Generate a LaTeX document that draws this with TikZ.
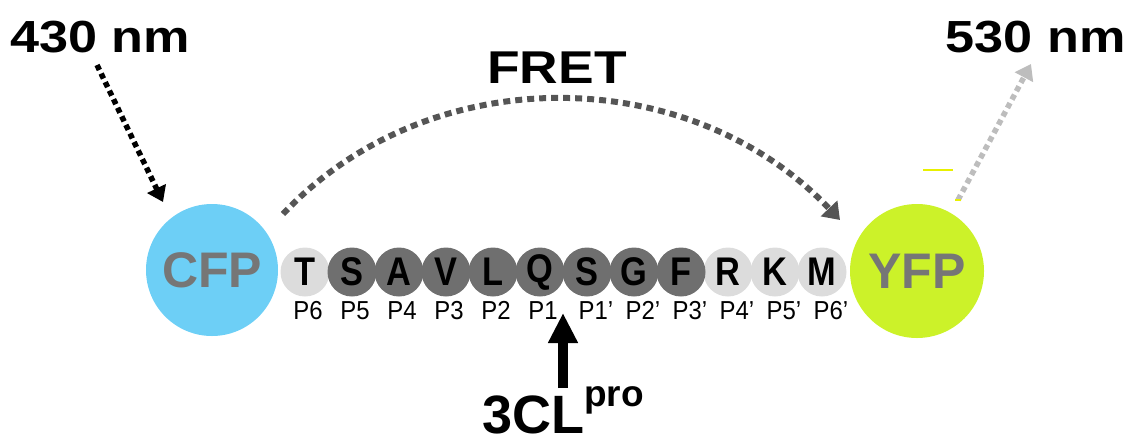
\documentclass[tikz,border=0pt]{standalone}
\usepackage{fontspec}
\setmainfont{Liberation Sans}
\newfontfamily\widesf[FakeStretch=1.16]{Liberation Sans}
\newfontfamily\narrowsf[FakeStretch=0.86]{Liberation Sans}
\newfontfamily\sitesf[FakeStretch=0.92]{Liberation Sans}
\usetikzlibrary{arrows.meta}
\definecolor{cfpblue}{HTML}{6DCFF6}
\definecolor{yfpgreen}{HTML}{CCF229}
\definecolor{beadlight}{HTML}{DCDCDC}
\definecolor{beaddark}{HTML}{6F6F6F}
\definecolor{labelgray}{HTML}{767676}
\definecolor{fretgray}{HTML}{555555}
\definecolor{emitgray}{HTML}{BDBDBD}
\definecolor{specks}{HTML}{E8F000}
\begin{document}
\begin{tikzpicture}[x=1pt,y=-1pt,
  fp/.style={circle, minimum size=132pt, inner sep=0pt, text=labelgray,
             font=\bfseries\fontsize{50}{50}\selectfont},
  bead/.style={circle, minimum size=49pt, inner sep=0pt,
               font=\narrowsf\bfseries\fontsize{40}{40}\selectfont},
  site/.style={inner sep=0pt, anchor=base, font=\sitesf\fontsize{26}{26}\selectfont},
  bigtext/.style={inner sep=0pt, font=\widesf\bfseries\fontsize{45}{45}\selectfont},
  lightpath/.style={line width=5.5pt, dash pattern=on 5.5pt off 4pt},
  tip/.style={-{Triangle[width=20pt,length=15pt]}}]
\useasboundingbox (0,0) rectangle (1129,445);

% fluorescent proteins
\node[fp, fill=cfpblue] (cfp) at (212,270) {CFP};
\node[fp, fill=yfpgreen, minimum size=134pt] (yfp) at (917,271) {YFP};

% substrate peptide: light residues first, dark residues on top
\foreach \res/\i in {T/0, R/9, K/10, M/11}
  \node[bead, fill=beadlight] (b\i) at ({305+47*\i},272) {\res};
\foreach \res/\i in {S/1, A/2, V/3, L/4, Q/5, S/6, G/7, F/8}
  \node[bead, fill=beaddark] (b\i) at ({305+47*\i},272) {\res};

% subsite labels (primed sites sit a little to the right)
\foreach \s [count=\i from 0] in {P6,P5,P4,P3,P2,P1,P1’,P2’,P3’,P4’,P5’,P6’}
  \node[site] (p\i) at ({305+47*\i+3+(\i>5)*6},319) {\s};

% excitation and emission
\node[bigtext, anchor=base west] (ex) at (10,52) {430 nm};
\node[bigtext, anchor=base east] (em) at (1126,52) {530 nm};
\coordinate (exstart) at (97,65);
\coordinate (exend) at (163,202);
\coordinate (emstart) at (958,200);
\coordinate (emend) at (1031,64);
\draw[lightpath, black, tip] (exstart) -- (exend);
\draw[lightpath, emitgray, tip] (emstart) -- (emend);

% energy transfer
\node[bigtext, anchor=base, font=\widesf\bfseries\fontsize{46}{46}\selectfont] (fret) at (557,83) {FRET};
\coordinate (fretstart) at (283,214);
\coordinate (fretend) at (840,220);
\draw[line width=6pt, fretgray, dash pattern=on 7pt off 5pt,
      -{Triangle[width=22pt,length=16pt]}]
  (fretstart) .. controls (430,58) and (690,62) .. (fretend);

% protease cleavage site
\node[inner sep=0pt, anchor=base west, font=\bfseries\fontsize{54}{54}\selectfont]
  (enz) at (482,433) {3CL\raisebox{27pt}{\fontsize{37}{37}\selectfont pro}};
\coordinate (cutbase) at (563,388);
\coordinate (cut) at (563,313);
\draw[line width=10pt, -{Triangle[width=28pt,length=30pt]}] (cutbase) -- (cut);

% stray specks beside YFP
\draw[specks, line width=1.2pt] (923,170) -- (953,170);
\draw[specks, line width=1.2pt] (955,200) -- (961,200);
\end{tikzpicture}
\end{document}
